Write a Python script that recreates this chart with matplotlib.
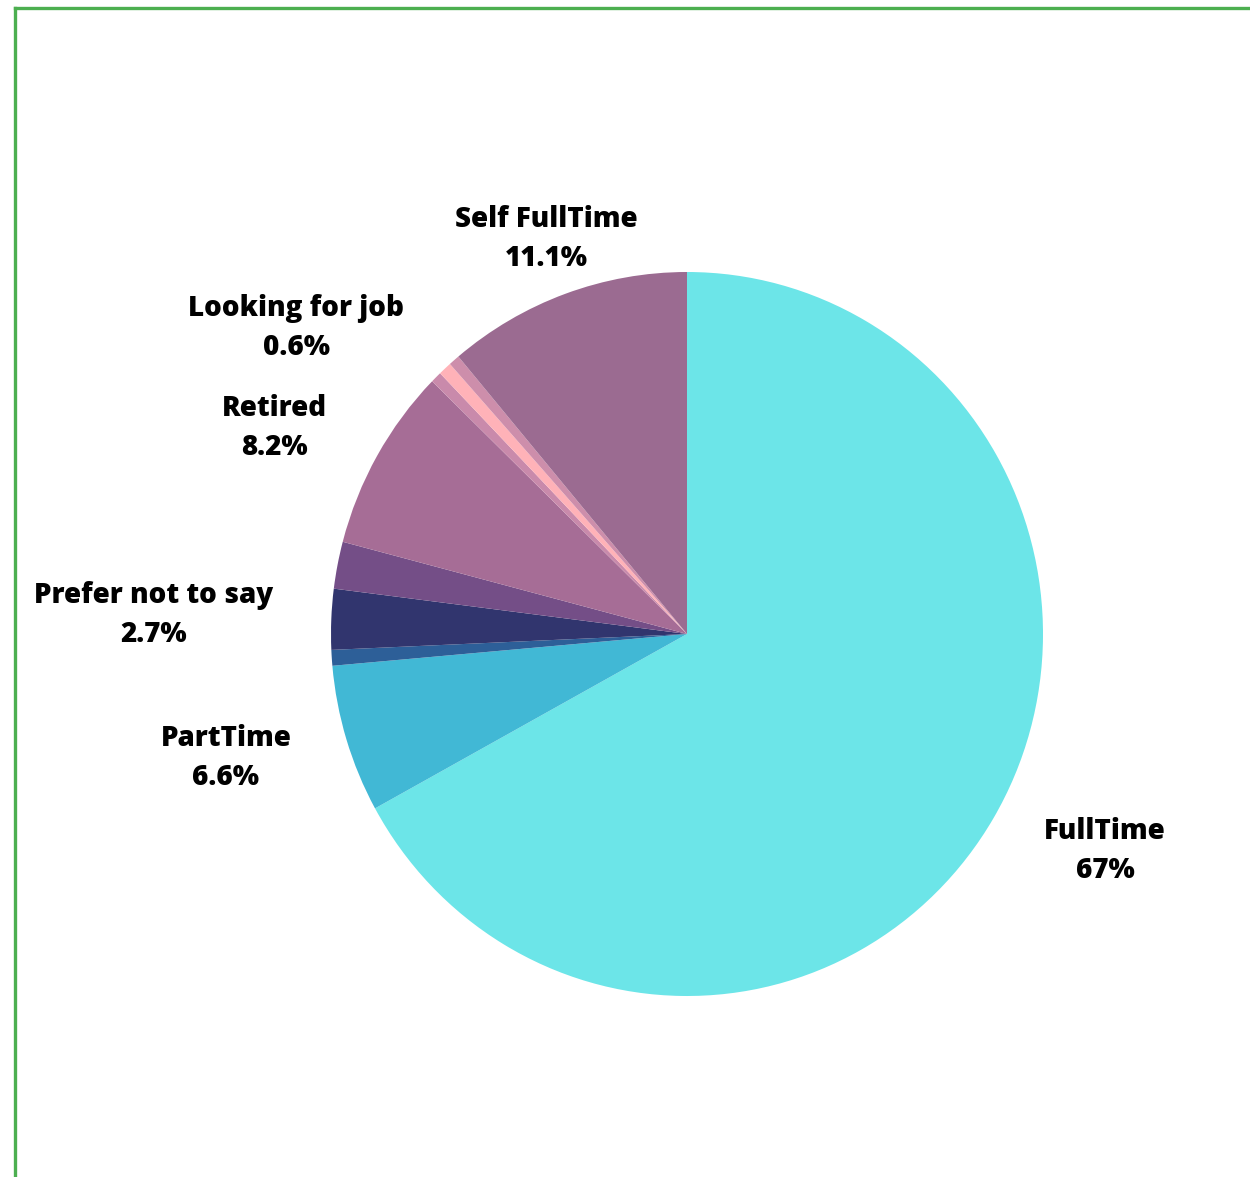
import matplotlib.pyplot as plt
from matplotlib.lines import Line2D

# employment status shares, clockwise from 12 o'clock
labels = ["FullTime", "PartTime", "", "Prefer not to say", "", "Retired",
          "", "Looking for job", "", "Self FullTime"]
shares = [67.0, 6.6, 0.7, 2.7, 2.1, 8.2, 0.5, 0.6, 0.5, 11.1]
colors = ["#6ce5e8", "#41b8d5", "#2d5f98", "#31356e", "#744e87", "#a66d96",
          "#c98aab", "#ffb2b8", "#cd8eab", "#9b6b91"]

# label anchor points in pixels (x, y from top)
label_pos = {
    "FullTime": (1105, 851),
    "PartTime": (226, 758),
    "Prefer not to say": (154, 615),
    "Retired": (274, 428),
    "Looking for job": (296, 328),
    "Self FullTime": (546, 239),
}

W, H = 1250, 1177
fig = plt.figure(figsize=(W / 100, H / 100), dpi=100)
fig.patch.set_facecolor("white")

# pie centre and radii in pixels
cx, cy, rx, ry = 687, 634, 356, 362
ax = fig.add_axes([(cx - rx) / W, (H - cy - ry) / H, 2 * rx / W, 2 * ry / H])
ax.pie(shares, colors=colors, startangle=90, counterclock=False, radius=1,
       wedgeprops=dict(linewidth=0))
ax.set_aspect("auto")
ax.set_xlim(-1, 1)
ax.set_ylim(-1, 1)
ax.axis("off")

for name, val in zip(labels, shares):
    if not name:
        continue
    x, y = label_pos[name]
    txt = f"{val:g}%"
    fig.text(x / W, 1 - y / H, f"{name}\n{txt}", ha="center", va="center",
             fontsize=20, fontweight="heavy", family=["Open Sans", "DejaVu Sans"],
             color="black", linespacing=1.45)

# green frame on the top and left edges
green = "#4caf50"
fig.add_artist(Line2D([15 / W, 1], [1 - 8 / H, 1 - 8 / H], color=green, lw=2.4,
                      transform=fig.transFigure))
fig.add_artist(Line2D([15 / W, 15 / W], [0, 1 - 8 / H], color=green, lw=2.4,
                      transform=fig.transFigure))

fig.savefig("out.png", dpi=100)
